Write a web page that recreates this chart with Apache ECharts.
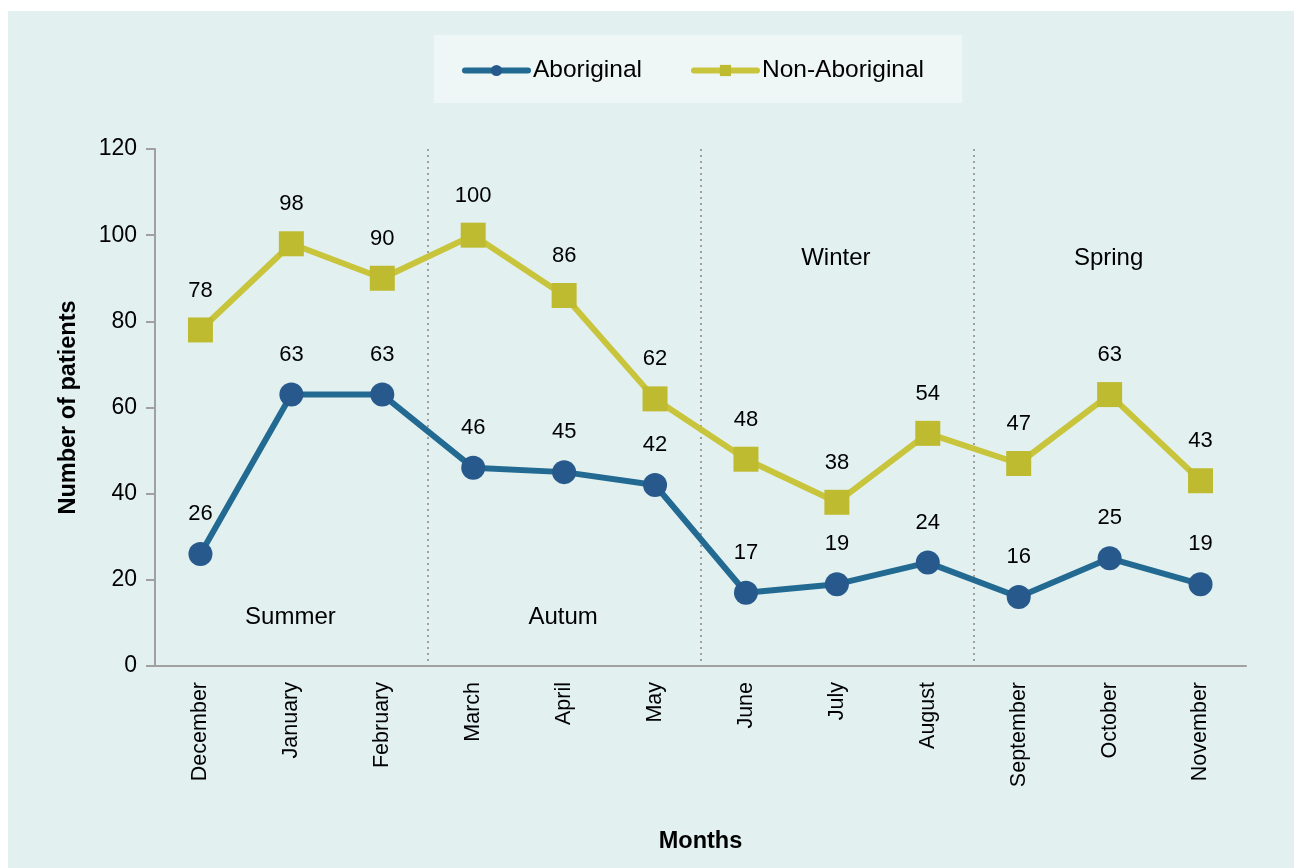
<!DOCTYPE html>
<html>
<head>
<meta charset="utf-8">
<script src="https://cdn.jsdelivr.net/npm/echarts@6/dist/echarts.min.js"></script>
<style>
html,body{margin:0;padding:0;background:#ffffff;}
#chart{width:1294px;height:868px;}
</style>
</head>
<body>
<div id="chart"></div>
<script>
var months = ['December','January','February','March','April','May','June','July','August','September','October','November'];
var aboriginal = [26,63,63,46,45,42,17,19,24,16,25,19];
var nonAboriginal = [78,98,90,100,86,62,48,38,54,47,63,43];
var seasonNames = ['Summer','Autum','Winter','Spring'];
var seasonMonths = ['January','April','July','October'];
var seasonY = [11.4,11.4,94.5,94.5];
var yTicks = [0,20,40,60,80,100,120];

var FONT = 'Liberation Sans, Arial, sans-serif';
var chart = echarts.init(document.getElementById('chart'), null, {renderer:'canvas'});
var seasonData = seasonNames.map(function(n,i){ return {name:n, value:[seasonMonths[i], seasonY[i]]}; });

chart.setOption({
  backgroundColor:'#ffffff',
  animation:false,
  graphic:[{type:'rect', z:-10, shape:{x:8,y:11,width:1286,height:857}, style:{fill:'#e2f1f0'}}],
  legend:{
    data:['Aboriginal','Non-Aboriginal'],
    left:434, top:35,
    padding:[23,38,20,28],
    backgroundColor:'#eef7f6',
    itemWidth:63, itemHeight:14, itemGap:49,
    lineStyle:{width:6,cap:'round'},
    textStyle:{fontFamily:FONT,fontSize:24.5,color:'#000'}
  },
  grid:{left:155,right:48,top:149,bottom:202,containLabel:false},
  xAxis:{
    type:'category', data:months, boundaryGap:true,
    axisLine:{lineStyle:{color:'#a0a0a0',width:2}},
    axisTick:{show:false},
    axisLabel:{rotate:90,margin:16,fontFamily:FONT,fontSize:21.5,color:'#000'},
    splitLine:{show:true,showMinLine:false,showMaxLine:false,interval:2,lineStyle:{color:'#a0a0a0',type:[2,4],width:2}},
    name:'Months', nameLocation:'middle', nameGap:164,
    nameTextStyle:{fontFamily:FONT,fontSize:23.5,fontWeight:'bold',color:'#000'}
  },
  yAxis:{
    type:'value', min:yTicks[0], max:yTicks[yTicks.length-1], interval:20,
    axisLine:{show:true,lineStyle:{color:'#a0a0a0',width:2}},
    axisTick:{show:true,length:9,lineStyle:{color:'#a0a0a0',width:2}},
    axisLabel:{margin:18,fontFamily:FONT,fontSize:23,color:'#000'},
    splitLine:{show:false},
    name:'Number of patients', nameLocation:'middle', nameGap:74,
    nameTextStyle:{fontFamily:FONT,fontSize:23.5,fontWeight:'bold',color:'#000'}
  },
  series:[
    {
      name:'Aboriginal', type:'line', data:aboriginal,
      symbol:'circle', symbolSize:24,
      lineStyle:{color:'#236a93',width:6},
      itemStyle:{color:'#27598c'},
      label:{show:true,position:'top',distance:17,fontFamily:FONT,fontSize:22,color:'#000'},
      z:3
    },
    {
      name:'Non-Aboriginal', type:'line', data:nonAboriginal,
      symbol:'rect', symbolSize:25,
      lineStyle:{color:'#c8c43b',width:6},
      itemStyle:{color:'#bfbb30'},
      label:{show:true,position:'top',distance:16,fontFamily:FONT,fontSize:22,color:'#000'},
      z:3
    },
    {
      name:'seasons', type:'scatter', data:seasonData, symbolSize:0, silent:true,
      label:{show:true,position:'inside',offset:[-1,0],formatter:function(p){return p.name;},fontFamily:FONT,fontSize:24,color:'#000',opacity:1}
    }
  ]
});
</script>
</body>
</html>
